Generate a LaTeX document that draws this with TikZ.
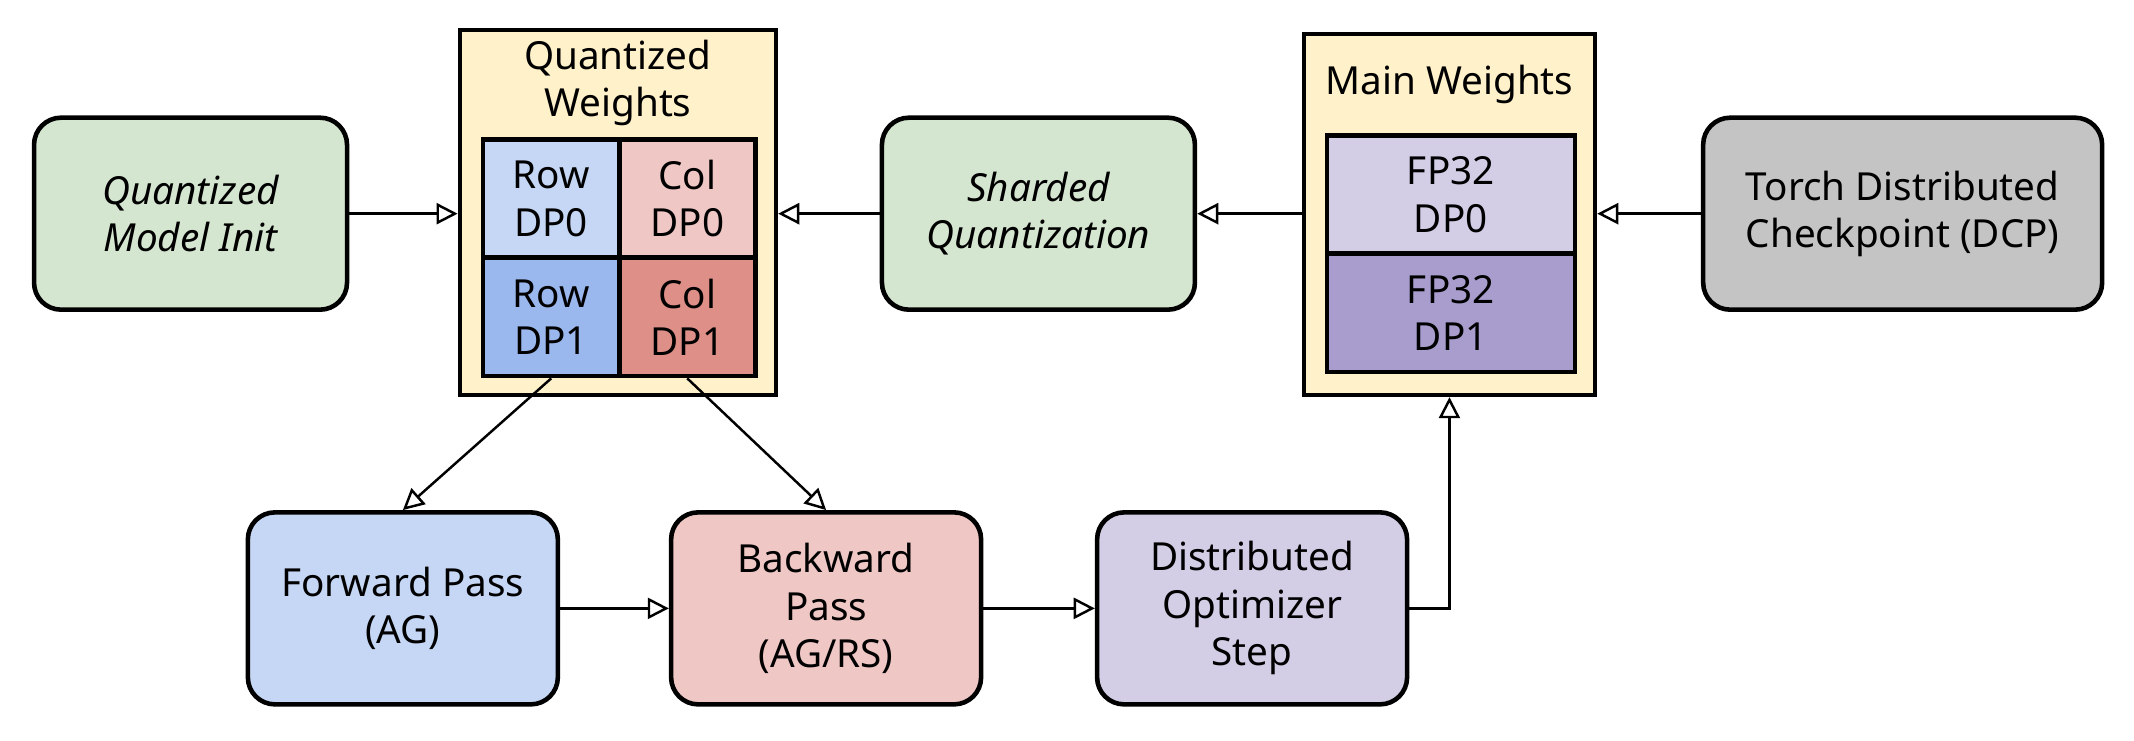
\documentclass[tikz,border=0pt]{standalone}
\usepackage{fontspec}
\setmainfont{Noto Sans}
\usetikzlibrary{arrows.meta}
\definecolor{cgreen}{HTML}{D5E6D0}
\definecolor{cyellow}{HTML}{FFF1C9}
\definecolor{cblueA}{HTML}{C5D7F5}
\definecolor{cblueB}{HTML}{9BB8EE}
\definecolor{credA}{HTML}{EFC7C5}
\definecolor{credB}{HTML}{DD8F88}
\definecolor{cpurA}{HTML}{D3CDE6}
\definecolor{cpurB}{HTML}{A89DCD}
\definecolor{cgray}{HTML}{C4C4C4}
\tikzset{
  box/.style={draw, line width=1.3pt, rounded corners=0.27cm, minimum width=3.13cm,
    minimum height=1.92cm, align=center, font=\fontsize{11}{13.5}\selectfont\bfseries},
  frame/.style={draw, line width=1.3pt, fill=cyellow},
  cell/.style={draw, line width=1.3pt, minimum width=1.36cm, minimum height=1.18cm,
    align=center, font=\fontsize{11}{13.5}\selectfont\bfseries},
  wide/.style={cell, minimum width=2.48cm},
  flow/.style={line width=0.7pt, -{Triangle[open, length=6pt, width=6pt]}}
}
\begin{document}
\begin{tikzpicture}[x=0.01361cm, y=-0.01361cm]
            \useasboundingbox (0,0) rectangle (1568,544);
            % top row
            \node[box, fill=cgreen] (init) at (140,157) {\itshape Quantized\\\itshape Model Init};
            \node[frame, minimum width=3.16cm, minimum height=3.65cm] (qw) at (454,156) {};
            \node[align=center, font=\fontsize{11}{13.5}\selectfont\bfseries] (qwtitle) at (454,61) {Quantized\\Weights};
            \node[cell, fill=cblueA] (r0) at (405,146) {Row\\DP0};
            \node[cell, fill=credA] (c0) at (505,146) {Col\\DP0};
            \node[cell, fill=cblueB] (r1) at (405,233) {Row\\DP1};
            \node[cell, fill=credB] (c1) at (505,233) {Col\\DP1};
            \node[box, fill=cgreen] (shard) at (763,157) {\itshape Sharded\\\itshape Quantization};
            \node[frame, minimum width=2.91cm, minimum height=3.61cm] (mw) at (1065,157.5) {};
            \node[font=\fontsize{11}{13.5}\selectfont\bfseries] (mwtitle) at (1065,62) {Main Weights};
            \node[wide, fill=cpurA] (f0) at (1066,143) {FP32\\DP0};
            \node[wide, fill=cpurB] (f1) at (1066,230) {FP32\\DP1};
            \node[box, fill=cgray, minimum width=3.99cm] (dcp) at (1398,157) {Torch Distributed\\Checkpoint (DCP)};
            % bottom row
            \node[box, fill=cblueA, minimum width=3.10cm] (fwd) at (296,447) {Forward Pass\\(AG)};
            \node[box, fill=credA, minimum width=3.10cm] (bwd) at (607,447) {Backward\\Pass\\(AG/RS)};
            \node[box, fill=cpurA, minimum width=3.10cm] (opt) at (920,447) {Distributed\\Optimizer\\Step};
            % Arrows
            \draw[flow] (init.east) -- (qw.west |- init.east);
            \draw[flow] (shard.west) -- (qw.east |- shard.west);
            \draw[flow] (mw.west |- shard.east) -- (shard.east);
            \draw[flow] (dcp.west) -- (mw.east |- dcp.west);
            \draw[flow] (r1.south) -- (fwd.north);
            \draw[flow] (c1.south) -- (bwd.north);
            \draw[flow] (fwd) -- (bwd);
            \draw[flow] (bwd) -- (opt);
            \draw[flow] (opt.east) -| (mw.south);
        \end{tikzpicture}
\end{document}
